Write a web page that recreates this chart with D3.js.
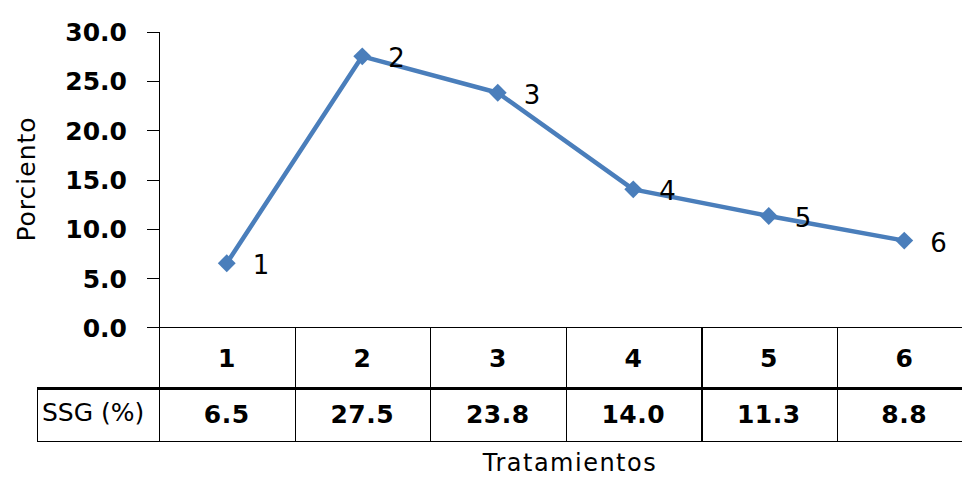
<!DOCTYPE html>
<html>
<head>
<meta charset="utf-8">
<script src="https://cdn.jsdelivr.net/npm/d3@7"></script>
<style>
  html, body { margin: 0; padding: 0; background: #ffffff; }
  svg { display: block; }
  text { font-family: "DejaVu Sans", sans-serif; fill: #000; }
</style>
</head>
<body>
<svg id="chart" width="962" height="478"></svg>
<script>
// Tratamientos and their SSG (%) values
const categories = ["1", "2", "3", "4", "5", "6"];
const ssgValues = [6.5, 27.5, 23.8, 14.0, 11.3, 8.8];
const yTicks = [0, 5, 10, 15, 20, 25, 30];
const rowLabel = "SSG (%)";
const yTitle = "Porciento";
const xTitle = "Tratamientos";

const svg = d3.select("#chart");
const lineColor = "#4a7ebb";

// plot frame
const plotLeft = 159, plotTop = 31.7, plotBottom = 327.3, colW = 135.5;
const headerBottom = 388, tableBottom = 441, tableLeft = 37;

const x = d3.scaleBand()
  .domain(categories)
  .range([plotLeft, plotLeft + colW * categories.length])
  .padding(0);

const y = d3.scaleLinear()
  .domain([0, 30])
  .range([plotBottom, plotTop]);

// y axis
const yAxis = d3.axisLeft(y)
  .tickValues(yTicks)
  .tickSize(12)
  .tickPadding(20)
  .tickFormat(d3.format(".1f"));

const gy = svg.append("g")
  .attr("transform", `translate(${plotLeft},0)`)
  .call(yAxis);
gy.select(".domain").remove();
gy.selectAll(".tick line").attr("stroke", "#000").attr("stroke-width", 1)
  .attr("shape-rendering", "crispEdges");
gy.selectAll(".tick text")
  .attr("font-family", "DejaVu Sans")
  .attr("font-weight", "bold")
  .attr("font-size", 25)
  .attr("fill", "#000")
  .attr("dy", "0.36em");

// data table grid
const grid = svg.append("g")
  .attr("stroke", "#000")
  .attr("fill", "none")
  .attr("shape-rendering", "crispEdges");

// vertical axis line, continuing through the table
grid.append("line")
  .attr("x1", plotLeft + 0.5).attr("x2", plotLeft + 0.5)
  .attr("y1", plotTop).attr("y2", tableBottom)
  .attr("stroke-width", 1);

// category boundaries inside the table
categories.forEach((c, i) => {
  if (i === 0) return;
  grid.append("line")
    .attr("x1", Math.round(x(c)) + 0.5).attr("x2", Math.round(x(c)) + 0.5)
    .attr("y1", plotBottom).attr("y2", tableBottom)
    .attr("stroke-width", i === 4 ? 2 : 1);
});

// horizontal table rules
grid.append("line")
  .attr("x1", plotLeft - 12).attr("x2", 962)
  .attr("y1", Math.round(plotBottom) + 0.5).attr("y2", Math.round(plotBottom) + 0.5)
  .attr("stroke-width", 1);
grid.append("line")
  .attr("x1", tableLeft).attr("x2", 962)
  .attr("y1", headerBottom).attr("y2", headerBottom)
  .attr("stroke-width", 3);
grid.append("line")
  .attr("x1", tableLeft).attr("x2", 962)
  .attr("y1", tableBottom + 0.5).attr("y2", tableBottom + 0.5)
  .attr("stroke-width", 1);
grid.append("line")
  .attr("x1", tableLeft + 0.5).attr("x2", tableLeft + 0.5)
  .attr("y1", headerBottom).attr("y2", tableBottom)
  .attr("stroke-width", 1);

// table header row (category names)
svg.append("g").selectAll("text")
  .data(categories)
  .join("text")
  .attr("x", d => x(d) + x.bandwidth() / 2)
  .attr("y", 367)
  .attr("text-anchor", "middle")
  .attr("font-weight", "bold")
  .attr("font-size", 25)
  .text(d => d);

// table values row
svg.append("g").selectAll("text")
  .data(ssgValues)
  .join("text")
  .attr("x", (d, i) => x(categories[i]) + x.bandwidth() / 2)
  .attr("y", 423)
  .attr("text-anchor", "middle")
  .attr("font-weight", "bold")
  .attr("font-size", 25)
  .attr("letter-spacing", 0.5)
  .text(d => d3.format(".1f")(d));

svg.append("text")
  .attr("x", 42)
  .attr("y", 421)
  .attr("font-size", 25)
  .text(rowLabel);

// series line
const pts = ssgValues.map((v, i) => ({ cat: categories[i], v }));
const line = d3.line()
  .x(d => x(d.cat) + x.bandwidth() / 2)
  .y(d => y(d.v));

svg.append("path")
  .datum(pts)
  .attr("d", line)
  .attr("fill", "none")
  .attr("stroke", lineColor)
  .attr("stroke-width", 4.5)
  .attr("stroke-linejoin", "round");

// diamond markers
const diamond = d3.symbol().type(d3.symbolSquare).size(160);
svg.append("g").selectAll("path")
  .data(pts)
  .join("path")
  .attr("d", diamond)
  .attr("fill", lineColor)
  .attr("transform", d => `translate(${x(d.cat) + x.bandwidth() / 2},${y(d.v)}) rotate(45)`);

// point labels (category name to the right of each point)
svg.append("g").selectAll("text")
  .data(pts)
  .join("text")
  .attr("x", d => x(d.cat) + x.bandwidth() / 2 + 26)
  .attr("y", d => y(d.v) + 11)
  .attr("font-size", 26)
  .text(d => d.cat);

// axis titles
svg.append("text")
  .attr("transform", "translate(35,179) rotate(-90)")
  .attr("text-anchor", "middle")
  .attr("font-size", 25)
  .attr("letter-spacing", 1)
  .text(yTitle);

svg.append("text")
  .attr("x", 570)
  .attr("y", 471)
  .attr("text-anchor", "middle")
  .attr("font-size", 24)
  .attr("letter-spacing", 1.5)
  .text(xTitle);
</script>
</body>
</html>
